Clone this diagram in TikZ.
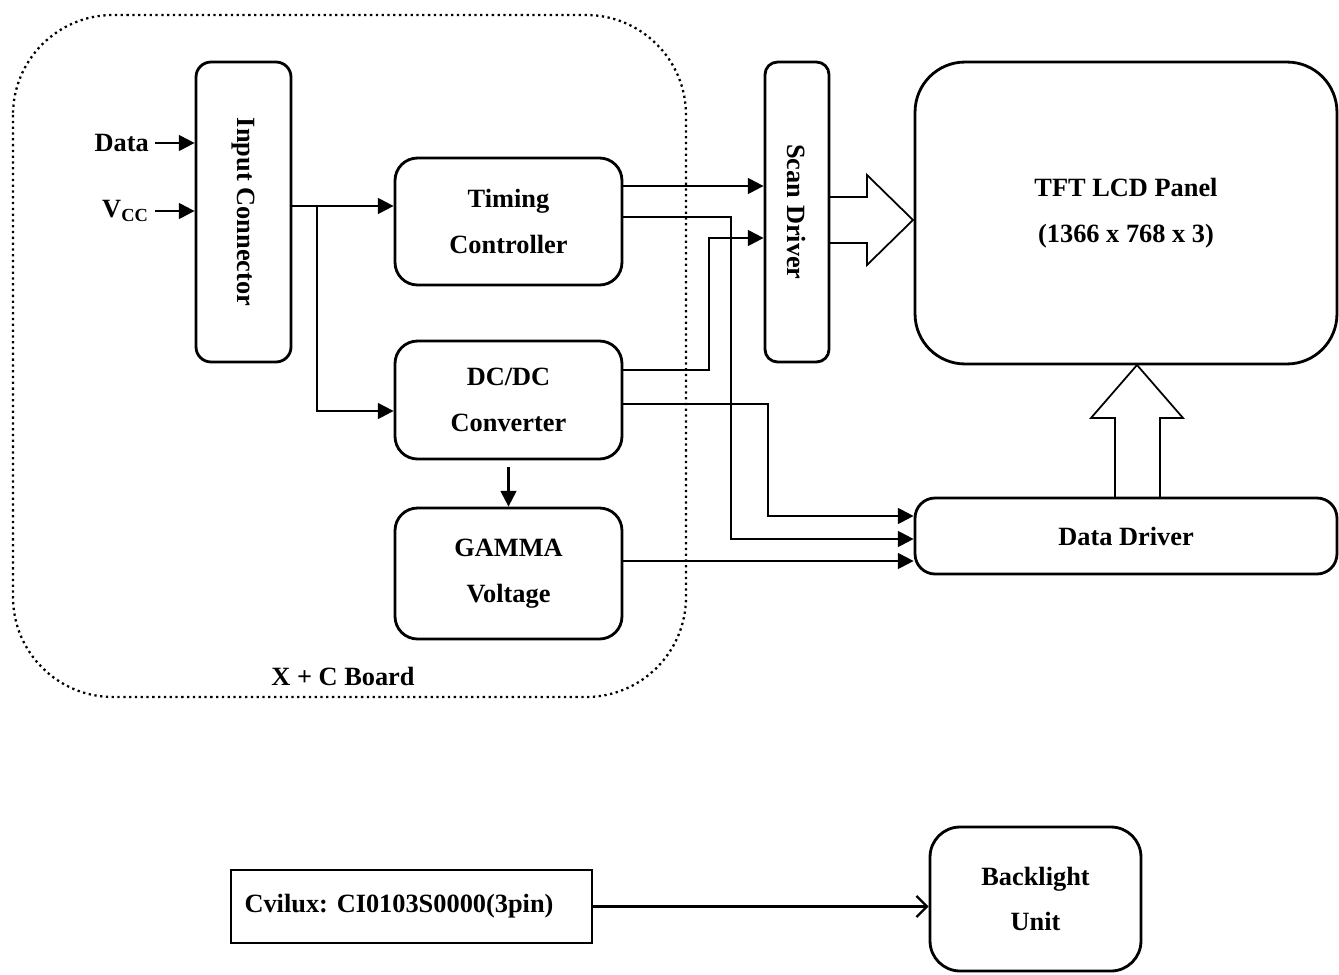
\documentclass[tikz,border=0pt]{standalone}
\usepackage{fontspec}
\usepackage{graphicx}
\setmainfont{Liberation Serif}
\usetikzlibrary{arrows.meta}

\tikzset{
  blk/.style={draw, rectangle, rounded corners=#1, line width=1.6pt, align=center,
    font={\bfseries\fontsize{15}{26}\selectfont}},
  blk/.default=0.4cm,
  lbl/.style={font={\bfseries\fontsize{15}{26}\selectfont}},
  sig/.style={-{Triangle[length=9pt,width=9pt]}, line width=1.3pt},
  fat/.style={draw, line width=1pt, line join=miter},
}

\begin{document}
\begin{tikzpicture}[x=0.02cm, y=-0.02cm]
\useasboundingbox (0,0) rectangle (1339,974);

% board outline
\draw[dotted, line width=1.3pt, rounded corners=2cm] (13,15) rectangle (686,697);
\node[lbl] (brd) at (343,676) {X + C Board};

\node[blk=0.3cm, minimum width=1.9cm, minimum height=6cm] (inc) at (243.5,212) {\rotatebox{-90}{Input Connector}};
\node[blk=0.45cm, minimum width=4.54cm, minimum height=2.54cm] (tc) at (508.5,221.5) {Timing\\Controller};
\node[blk=0.45cm, minimum width=4.54cm, minimum height=2.36cm] (dc) at (508.5,400) {DC/DC\\Converter};
\node[blk=0.45cm, minimum width=4.54cm, minimum height=2.62cm] (gv) at (508.5,573.5) {GAMMA\\Voltage};
\node[blk=0.25cm, minimum width=1.28cm, minimum height=6cm] (sd) at (797,212) {\rotatebox{-90}{Scan Driver}};
\node[blk=1cm, minimum width=8.44cm, minimum height=6.04cm] (tft) at (1126,213) {TFT LCD Panel\\(1366 x 768 x 3)};
\node[blk=0.4cm, minimum width=8.44cm, minimum height=1.52cm] (dd) at (1126,536) {Data Driver};
\node[blk=0cm, minimum width=7.22cm, minimum height=1.46cm] (cv) at (411.5,906.5) {Cvilux: CI0103S0000(3pin)\hspace{0.5cm}};
\node[blk=0.6cm, minimum width=4.22cm, minimum height=2.88cm] (bl) at (1035.5,899) {Backlight\\Unit};

% inputs
\node[lbl, anchor=east] (dat) at (155,143) {Data};
\node[lbl, anchor=east] (vcc) at (155,211) {V\textsubscript{CC}};
\draw[sig] (dat.east) -- (inc.west |- dat.east);
\draw[sig] (vcc.east) -- (inc.west |- vcc.east);

% board signals
\coordinate (j) at (317,206);
\draw[sig] (inc.east |- j) -- (tc.west |- j);
\draw[sig] (j) |- (dc.west |- 0,411);
\draw[sig] (tc.east |- 0,186) -- (sd.west |- 0,186);
\draw[sig] (tc.east |- 0,217) -- (731,217) -- (731,539) -- (dd.west |- 0,539);
\draw[sig] (dc.east |- 0,370) -- (709,370) -- (709,238) -- (sd.west |- 0,238);
\draw[sig] (dc.east |- 0,404) -- (768,404) -- (768,516) -- (dd.west |- 0,516);
\draw[sig] (gv.east |- 0,561) -- (dd.west |- 0,561);
\draw[sig, shorten <=4pt] (dc.south) -- (gv.north);

% wide arrows
\draw[fat] (829,197) -- (867,197) -- (867,175) -- (913,220) -- (867,265) -- (867,243) -- (829,243);
\draw[fat] (1115,498) -- (1115,418) -- (1091,418) -- (1137,365) -- (1183,418) -- (1160,418) -- (1160,498);

% backlight
\draw[-{Straight Barb[length=6pt,width=12pt]}, line width=1.3pt] (cv.east) -- (bl.west |- cv.east);
\end{tikzpicture}
\end{document}
